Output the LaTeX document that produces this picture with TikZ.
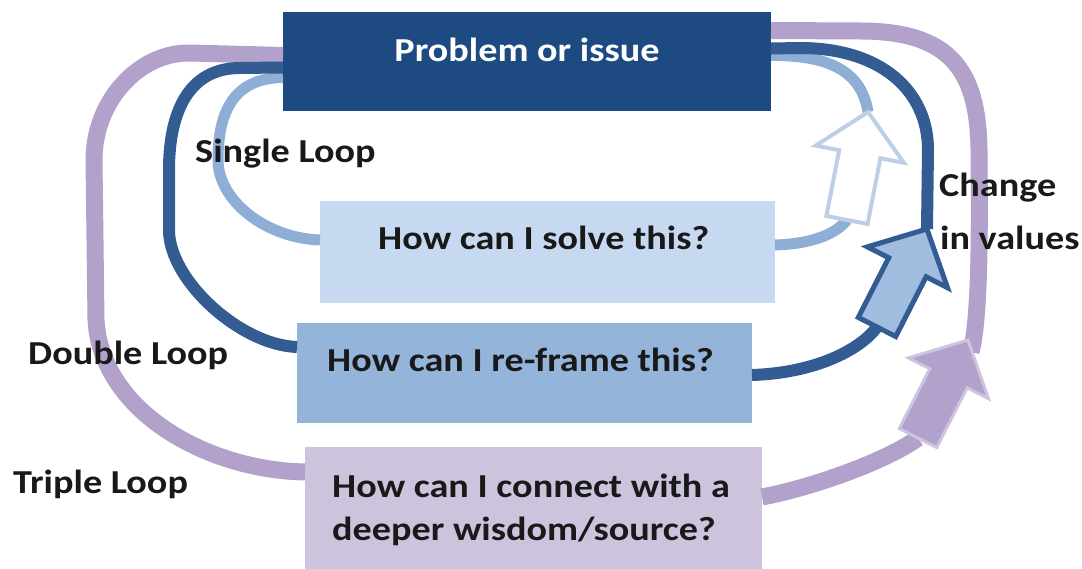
\documentclass[tikz,border=0pt]{standalone}
\usepackage{fontspec}
\setmainfont{Carlito}[FakeStretch=1.14]
\definecolor{probfill}{RGB}{30,74,130}
\definecolor{solvefill}{RGB}{198,217,241}
\definecolor{rffill}{RGB}{149,180,218}
\definecolor{deepfill}{RGB}{205,195,221}
\definecolor{lightloop}{RGB}{142,174,214}
\definecolor{darkloop}{RGB}{50,92,146}
\definecolor{purpleloop}{RGB}{178,161,202}
\definecolor{lightedge}{RGB}{188,207,231}
\definecolor{purpleedge}{RGB}{206,196,224}
\definecolor{darkarrfill}{RGB}{160,188,222}
\tikzset{
  bigarrow/.pic={
    \draw[pic actions] (0,-21)--(67,-21)--(67,-45)--(110,0)--(67,45)--(67,21)--(0,21)--cycle;
  }
}
\begin{document}
\begin{tikzpicture}[x=1pt,y=-1pt,line join=round]
	\tikzset{box/.style={anchor=north west,inner sep=0pt,outer sep=0pt},
		lbl/.style={font=\fontsize{33.5}{40}\selectfont\bfseries,text=black!90,inner sep=0pt,anchor=base west},
		loop/.style={line width=#1}}
	\useasboundingbox (0,0) rectangle (1082,569);
	% boxes
	\node[box,fill=probfill,minimum width=488pt,minimum height=99pt] (prob) at (283,12) {};
	\node[box,fill=solvefill,minimum width=455pt,minimum height=102pt] (solve) at (320,201) {};
	\node[box,fill=rffill,minimum width=455pt,minimum height=100pt] (rf) at (297,323) {};
	\node[box,fill=deepfill,minimum width=457pt,minimum height=130pt] (deep) at (305,447) {};
	% arrow ends
	\coordinate (sbase) at (847,220); \coordinate (stip) at (868,112);
	\coordinate (dbase) at (877,327); \coordinate (dtip) at (927,229);
	\coordinate (pbase) at (918,438); \coordinate (pend) at (971,352);
	% triple loop
	\draw[loop=17pt,purpleloop] ([yshift=6pt]prob.west) -- (190,53) .. controls (140,52) and (94,100) .. (94,160)
		-- (96,320) .. controls (101,410) and (205,470) .. ([yshift=40pt]deep.west);
	\draw[loop=17pt,purpleloop] ([yshift=31pt]prob.east) -- (860,31) .. controls (950,31) and (978,70) .. (979,150)
		.. controls (980,250) and (979,320) .. (pend);
	\draw[loop=17pt,purpleloop] ([yshift=15pt]deep.east) .. controls (810,488) and (885,462) .. (pbase);
	% single loop
	\draw[loop=11pt,lightloop] ([yshift=-16pt]prob.west) .. controls (235,78) and (218,110) .. (218,160)
		.. controls (218,200) and (265,238) .. ([yshift=12pt]solve.west);
	\draw[loop=11pt,lightloop] ([yshift=7pt]solve.east) .. controls (810,244) and (835,235) .. (sbase);
	\draw[loop=11pt,lightloop] (stip) .. controls (862,75) and (835,55) .. ([yshift=6pt]prob.east);
	% double loop
	\draw[loop=12pt,darkloop] ([yshift=-6pt]prob.west) -- (240,68) .. controls (190,68) and (169,110) .. (169,170)
		-- (169,230) .. controls (169,280) and (240,345) .. ([yshift=26pt]rf.west);
	\draw[loop=12pt,darkloop] ([yshift=-2pt]rf.east) .. controls (815,373) and (860,350) .. (dbase);
	\draw[loop=12pt,darkloop] (dtip) -- (928,150) .. controls (928,90) and (880,48) .. (800,48) -- ([yshift=13pt]prob.east);
	% arrows
	\pic[draw=lightedge,fill=white,line width=4pt,line join=miter,rotate=79] at (sbase) {bigarrow};
	\pic[draw=darkloop,fill=darkarrfill,line width=5pt,line join=miter,rotate=63] at (dbase) {bigarrow};
	\pic[draw=purpleedge,fill=purpleloop,line width=3pt,line join=miter,rotate=63] at (pbase) {bigarrow};
	% labels
	\node[lbl,text=white,anchor=base] (probtxt) at (527,62) {Problem or issue};
	\node[lbl] (solvetxt) at (378,250) {How can I solve this?};
	\node[lbl] (rftxt) at (327,372) {How can I re-frame this?};
	\node[lbl] (deeptxta) at (332,497) {How can I connect with a};
	\node[lbl] (deeptxtb) at (332,540) {deeper wisdom/source?};
	\node[lbl] (single) at (195,163) {Single Loop};
	\node[lbl] (double) at (28,365) {Double Loop};
	\node[lbl] (triple) at (13,493) {Triple Loop};
	\node[lbl] (change) at (939,197) {Change};
	\node[lbl] (values) at (940,250) {in values};
\end{tikzpicture}
\end{document}
